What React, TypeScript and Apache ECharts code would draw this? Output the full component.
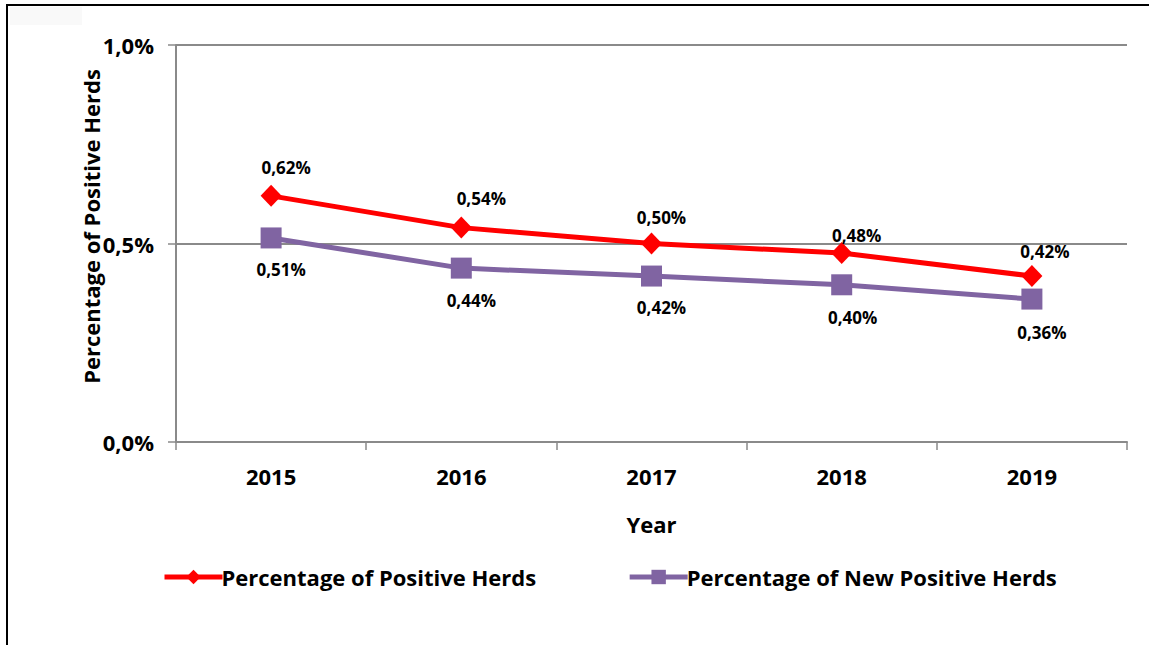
import React, { useEffect, useRef } from "react";
import * as echarts from "echarts";

const years = ["2015", "2016", "2017", "2018", "2019"];
const positiveHerds = [0.62, 0.54, 0.5, 0.476, 0.418];
const newPositiveHerds = [0.514, 0.438, 0.418, 0.396, 0.36];
const yTicks = [0, 0.5, 1.0];

// label placement offsets (style only) relative to each marker centre
const redLabelOffsets = [[15, -28], [20, -29], [10, -26], [15, -18], [13, -25]];
const purpleLabelOffsets = [[10, 32], [10, 32], [10, 31], [11, 33], [10, 33]];

const FONT = "'Open Sans', 'Noto Sans', sans-serif";
const fmtPct = (v: number, d: number) => v.toFixed(d).replace(".", ",") + "%";

export default function App() {
  const ref = useRef<HTMLDivElement>(null);
  useEffect(() => {
    if (!ref.current) return;
    const chart = echarts.init(ref.current, undefined, { renderer: "svg" });
    const axisColor = "#8a8a8a";
    const labelBase = {
      show: true,
      position: "inside",
      fontSize: 17,
      fontWeight: "bold",
      color: "#000",
      fontFamily: FONT,
      formatter: (p: any) => fmtPct(p.value, 2),
    };
    chart.setOption({
      animation: false,
      backgroundColor: "#ffffff",
      textStyle: { fontFamily: FONT },
      graphic: [
        {
          type: "rect",
          shape: { x: 10, y: 7, width: 72, height: 18 },
          style: { fill: "#f9f9f9" },
        },
        {
          type: "polyline",
          shape: { points: [[7, 645], [7, 5], [1149, 5]] },
          style: { stroke: "#000", lineWidth: 2, fill: null },
        },
      ],
      grid: { left: 176, right: 22, top: 45, bottom: 203, containLabel: false },
      legend: {
        left: 157,
        top: 561,
        itemWidth: 58,
        itemHeight: 18,
        itemGap: 91,
        lineStyle: { width: 5 },
        textStyle: {
          fontSize: 22,
          fontWeight: "bold",
          color: "#000",
          fontFamily: FONT,
          padding: [0, 0, 0, -6],
        },
        data: ["Percentage of Positive Herds", "Percentage of New Positive Herds"],
      },
      xAxis: {
        type: "category",
        data: years,
        boundaryGap: true,
        name: "Year",
        nameLocation: "middle",
        nameGap: 71,
        nameMoveOverlap: false,
        nameTextStyle: { fontSize: 22, fontWeight: "bold", color: "#000", fontFamily: FONT },
        axisLine: { lineStyle: { color: axisColor, width: 2 } },
        axisTick: { show: true, inside: false, length: 8, lineStyle: { color: axisColor, width: 1.5 } },
        axisLabel: { fontSize: 22, fontWeight: "bold", color: "#000", margin: 23, fontFamily: FONT },
      },
      yAxis: {
        type: "value",
        min: yTicks[0],
        max: yTicks[yTicks.length - 1],
        interval: 0.5,
        name: "Percentage of Positive Herds",
        nameLocation: "middle",
        nameRotate: 90,
        nameGap: 74,
        nameMoveOverlap: false,
        nameTextStyle: {
          fontSize: 22,
          fontWeight: "bold",
          color: "#000",
          fontFamily: FONT,
          padding: [0, 0, 0, 34],
        },
        axisLine: { show: true, lineStyle: { color: axisColor, width: 2 } },
        axisTick: { show: true, inside: false, length: 8, lineStyle: { color: axisColor, width: 1.5 } },
        splitLine: { show: true, lineStyle: { color: axisColor, width: 2 } },
        axisLabel: {
          fontSize: 22,
          fontWeight: "bold",
          color: "#000",
          margin: 22,
          fontFamily: FONT,
          formatter: (v: number) => fmtPct(v, 1),
        },
      },
      series: [
        {
          name: "Percentage of Positive Herds",
          type: "line",
          data: positiveHerds.map((v, i) => ({
            value: v,
            label: { ...labelBase, offset: redLabelOffsets[i] },
          })),
          symbol: "diamond",
          symbolSize: [21, 22],
          color: "#ff0000",
          lineStyle: { color: "#ff0000", width: 5 },
          itemStyle: { color: "#ff0000" },
          label: labelBase,
          z: 3,
        },
        {
          name: "Percentage of New Positive Herds",
          type: "line",
          data: newPositiveHerds.map((v, i) => ({
            value: v,
            label: { ...labelBase, offset: purpleLabelOffsets[i] },
          })),
          symbol: "rect",
          symbolSize: [21, 21],
          color: "#8064a2",
          lineStyle: { color: "#8064a2", width: 5 },
          itemStyle: { color: "#8064a2" },
          label: labelBase,
          z: 2,
        },
      ],
    });
    return () => chart.dispose();
  }, []);
  return (
    <div
      ref={ref}
      style={{ position: "absolute", left: 0, top: 0, width: 1149, height: 645 }}
    />
  );
}
